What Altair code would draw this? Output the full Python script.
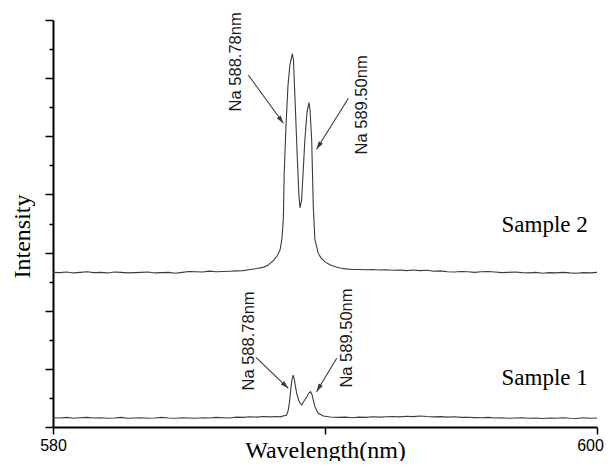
import math
import altair as alt
import pandas as pd

# ---------------- data ----------------
# Sample 2 spectrum (wavelength nm, intensity a.u.)
s2_lam = [580.00, 580.25, 580.50, 580.75, 581.00, 581.25, 581.50, 581.75, 582.00, 582.25,
          582.50, 582.75, 583.00, 583.25, 583.50, 583.75, 584.00, 584.25, 584.50, 584.75,
          585.00, 585.25, 585.50, 585.75, 586.00, 586.25, 586.50, 586.75, 587.00, 587.25,
          587.50, 587.75, 587.90, 588.10, 588.25, 588.35, 588.42, 588.47, 588.50, 588.57,
          588.64, 588.71, 588.80, 588.84, 588.90, 588.97, 589.04, 589.08, 589.14, 589.19,
          589.26, 589.34, 589.41, 589.45, 589.51, 589.57, 589.63, 589.75, 589.85, 590.00,
          590.18, 590.35, 590.55, 590.75, 591.00, 591.25, 591.50, 591.75, 592.00, 592.25,
          592.50, 592.75, 593.00, 593.25, 593.50, 593.75, 594.00, 594.25, 594.50, 594.75,
          595.00, 595.25, 595.50, 595.75, 596.00, 596.25, 596.50, 596.75, 597.00, 597.25,
          597.50, 597.75, 598.00, 598.25, 598.50, 598.75, 599.00, 599.25, 599.50, 599.75,
          600.00]
s2_int = [2.660, 2.655, 2.665, 2.650, 2.660, 2.670, 2.655, 2.660, 2.650, 2.665,
          2.660, 2.650, 2.655, 2.660, 2.665, 2.650, 2.655, 2.660, 2.645, 2.660,
          2.675, 2.670, 2.665, 2.680, 2.670, 2.675, 2.680, 2.685, 2.690, 2.710,
          2.725, 2.750, 2.780, 2.860, 2.950, 3.050, 3.250, 3.600, 4.370, 5.230,
          5.880, 6.230, 6.420, 6.310, 5.620, 4.760, 3.990, 3.770, 3.900, 4.330,
          4.940, 5.420, 5.580, 5.450, 4.940, 3.790, 3.220, 2.990, 2.910, 2.840,
          2.790, 2.760, 2.735, 2.720, 2.710, 2.710, 2.705, 2.710, 2.700, 2.705,
          2.695, 2.700, 2.690, 2.700, 2.690, 2.695, 2.680, 2.685, 2.670, 2.665,
          2.675, 2.670, 2.660, 2.670, 2.675, 2.665, 2.655, 2.660, 2.665, 2.655,
          2.650, 2.660, 2.645, 2.655, 2.650, 2.660, 2.650, 2.645, 2.655, 2.650,
          2.660]

# Sample 1 spectrum
s1_lam = [580.00, 580.25, 580.50, 580.75, 581.00, 581.25, 581.50, 581.75, 582.00, 582.25,
          582.50, 582.75, 583.00, 583.25, 583.50, 583.75, 584.00, 584.25, 584.50, 584.75,
          585.00, 585.25, 585.50, 585.75, 586.00, 586.25, 586.50, 586.75, 587.00, 587.25,
          587.50, 587.75, 588.00, 588.20, 588.35, 588.59, 588.65, 588.70, 588.74, 588.78,
          588.83, 588.88, 588.92, 588.96, 589.04, 589.14, 589.23, 589.33, 589.40, 589.47,
          589.52, 589.57, 589.63, 589.75, 589.94, 590.18, 590.50, 590.75, 591.00, 591.25,
          591.50, 591.75, 592.00, 592.25, 592.50, 592.75, 593.00, 593.25, 593.50, 593.75,
          594.00, 594.25, 594.50, 594.75, 595.00, 595.25, 595.50, 595.75, 596.00, 596.25,
          596.50, 596.75, 597.00, 597.25, 597.50, 597.75, 598.00, 598.25, 598.50, 598.75,
          599.00, 599.25, 599.50, 599.75, 600.00]
s1_int = [0.160, 0.155, 0.165, 0.150, 0.160, 0.165, 0.155, 0.160, 0.150, 0.155,
          0.165, 0.150, 0.155, 0.160, 0.150, 0.155, 0.165, 0.155, 0.150, 0.160,
          0.155, 0.150, 0.160, 0.155, 0.165, 0.160, 0.155, 0.170, 0.165, 0.175,
          0.170, 0.180, 0.175, 0.180, 0.175, 0.206, 0.292, 0.450, 0.636, 0.800,
          0.894, 0.800, 0.680, 0.580, 0.447, 0.378, 0.447, 0.521, 0.580, 0.607,
          0.560, 0.464, 0.349, 0.236, 0.189, 0.172, 0.165, 0.170, 0.160, 0.170,
          0.165, 0.175, 0.170, 0.175, 0.180, 0.175, 0.185, 0.178, 0.188, 0.180,
          0.175, 0.178, 0.170, 0.175, 0.165, 0.168, 0.162, 0.158, 0.165, 0.155,
          0.160, 0.150, 0.155, 0.160, 0.150, 0.155, 0.145, 0.155, 0.150, 0.160,
          0.150, 0.145, 0.160, 0.150, 0.155]

# peak annotations (text centre, arrow start -> arrow tip), in data units
ann_text = ["Na 588.78nm", "Na 589.50nm", "Na 588.78nm", "Na 589.50nm"]
ann_lam = [586.73, 591.36, 587.21, 590.80]
ann_val = [6.28, 5.54, 1.48, 1.53]
arr_lam1 = [587.18, 590.86, 587.46, 590.43]
arr_val1 = [6.054, 5.653, 1.199, 1.182]
arr_lam2 = [588.47, 589.69, 588.65, 589.69]
arr_val2 = [5.224, 4.776, 0.666, 0.607]

# sample names
sample_names = ["Sample 2", "Sample 1"]
sample_lam = [596.49, 596.49]
sample_val = [3.354, 0.722]

x_ticks = [580, 590, 600]
y_ticks = [i * 0.5 for i in range(15)]

# ---------------- chart ----------------
W, H = 544, 407
XMIN, XMAX, YMIN, YMAX = 580, 600, 0, 7
px_per_x = W / (XMAX - XMIN)
px_per_y = H / (YMAX - YMIN)

lines = pd.DataFrame({
    "lam": s2_lam + s1_lam,
    "val": s2_int + s1_int,
    "sample": ["Sample 2"] * len(s2_lam) + ["Sample 1"] * len(s1_lam),
})

angles = []
for a1, b1, a2, b2 in zip(arr_lam1, arr_val1, arr_lam2, arr_val2):
    dx = (a2 - a1) * px_per_x
    dy = -(b2 - b1) * px_per_y
    angles.append(math.degrees(math.atan2(dx, -dy)) % 360)

arrows = pd.DataFrame({"lam": arr_lam1, "val": arr_val1, "lam2": arr_lam2,
                       "val2": arr_val2, "ang": angles})
labels = pd.DataFrame({"lam": ann_lam, "val": ann_val, "text": ann_text})
names = pd.DataFrame({"lam": sample_lam, "val": sample_val, "text": sample_names})

xs = alt.Scale(domain=[XMIN, XMAX], nice=False, zero=False)
ys = alt.Scale(domain=[YMIN, YMAX], nice=False, zero=False)

x_axis = alt.Axis(
    values=x_ticks,
    labelExpr="datum.value == 590 ? '' : datum.label",
    title="Wavelength(nm)",
    grid=False,
    domainColor="black", domainWidth=2,
    tickColor="black", tickWidth=1.5, tickSize=7,
    labelFont="Liberation Sans", labelFontSize=16, labelColor="black",
    labelPadding=3, labelFlush=False,
    labelOffset={"condition": {"test": "datum.value == 600", "value": -7}, "value": 0},
    titleFont="Liberation Serif", titleFontSize=24, titleFontWeight="normal",
    titleColor="black", titleBaseline="alphabetic", titleY=30,
)
y_axis = alt.Axis(
    values=y_ticks,
    labels=False,
    title="Intensity",
    grid=False,
    domainColor="black", domainWidth=2,
    tickColor="black", tickWidth=1.5,
    tickSize={"condition": {"test": "datum.value % 1 !== 0", "value": 4}, "value": 8},
    titleFont="Liberation Serif", titleFontSize=24, titleFontWeight="normal",
    titleColor="black", titleBaseline="alphabetic", titleAngle=270,
    titleX=-24, titleY=216, titleAlign="center",
)

X = alt.X("lam:Q", scale=xs, axis=x_axis)
Y = alt.Y("val:Q", scale=ys, axis=y_axis)

spectra = alt.Chart(lines).mark_line(color="#3c3c3c", strokeWidth=1.1, clip=True).encode(
    x=X, y=Y, detail="sample:N")

arrow_lines = alt.Chart(arrows).mark_rule(color="#3a3a3a", strokeWidth=1.1).encode(
    x=X, y=Y, x2="lam2:Q", y2="val2:Q")

arrow_heads = alt.Chart(arrows).mark_point(
    shape="M0,0L0.6,2L-0.6,2Z", filled=True, color="#3a3a3a", opacity=1, size=64
).encode(x=alt.X("lam2:Q", scale=xs, axis=x_axis), y=alt.Y("val2:Q", scale=ys, axis=y_axis),
         angle=alt.Angle("ang:Q", scale=None))

peak_text = alt.Chart(labels).mark_text(
    angle=270, align="center", baseline="middle", font="Liberation Sans",
    fontSize=16.5, color="#1a1a1a"
).encode(x=X, y=Y, text="text:N")

name_text = alt.Chart(names).mark_text(
    align="left", baseline="alphabetic", font="Liberation Serif",
    fontSize=23, color="black"
).encode(x=X, y=Y, text="text:N")

chart = alt.layer(spectra, arrow_lines, arrow_heads, peak_text, name_text).properties(
    width=W, height=H,
    autosize=alt.AutoSizeParams(type="none"),
    padding={"left": 45, "top": 12, "right": 8, "bottom": 34},
).configure_view(stroke=None)

chart.save("out.html", embed_options={"renderer": "svg", "actions": False})
